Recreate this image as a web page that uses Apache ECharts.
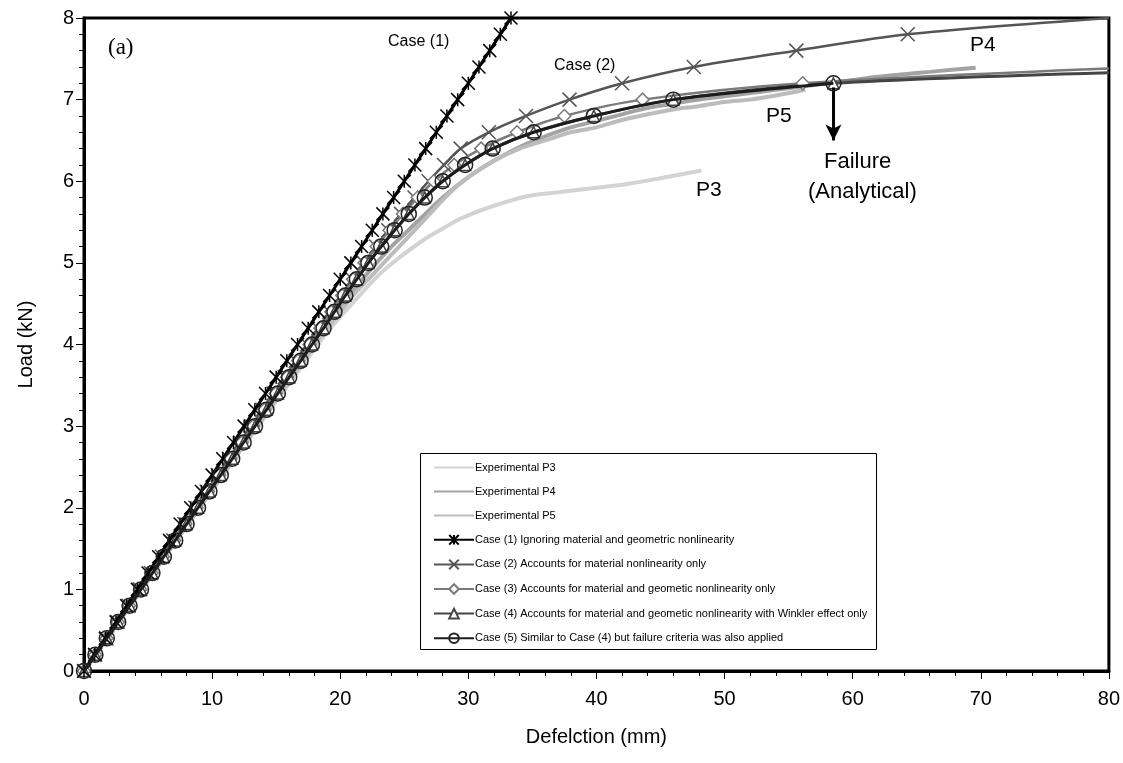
<!DOCTYPE html>
<html>
<head>
<meta charset="utf-8">
<title>Load - deflection</title>
<script src="https://cdn.jsdelivr.net/npm/echarts@6/dist/echarts.min.js"></script>
<style>
    html, body { margin: 0; padding: 0; background: #fff; }
    #main { width: 1123px; height: 763px; }
</style>
</head>
<body>
<div id="main"></div>
<script>
// 荷载 (kN) 与 挠度 (mm)
var load1 = [0, 0.2, 0.4, 0.6, 0.8, 1.0, 1.2, 1.4, 1.6, 1.8, 2.0, 2.2, 2.4, 2.6, 2.8, 3.0, 3.2, 3.4, 3.6, 3.8, 4.0,
    4.2, 4.4, 4.6, 4.8, 5.0, 5.2, 5.4, 5.6, 5.8, 6.0, 6.2, 6.4, 6.6, 6.8, 7.0, 7.2, 7.4, 7.6, 7.8, 8.0];
var defl1 = [0, 0.83, 1.67, 2.5, 3.33, 4.17, 5.0, 5.83, 6.67, 7.5, 8.33, 9.17, 10.0, 10.83, 11.67, 12.5, 13.33, 14.17, 15.0, 15.83, 16.67,
    17.5, 18.33, 19.17, 20.0, 20.83, 21.67, 22.5, 23.33, 24.17, 25.0, 25.83, 26.67, 27.5, 28.33, 29.17, 30.0, 30.83, 31.67, 32.5, 33.33];

var load2 = [0, 0.2, 0.4, 0.6, 0.8, 1.0, 1.2, 1.4, 1.6, 1.8, 2.0, 2.2, 2.4, 2.6, 2.8, 3.0, 3.2, 3.4, 3.6, 3.8, 4.0,
    4.2, 4.4, 4.6, 4.8, 5.0, 5.2, 5.4, 5.6, 5.8, 6.0, 6.2, 6.4, 6.6, 6.8, 7.0, 7.2, 7.4, 7.6, 7.8, 8.0];
var defl2 = [0, 0.87, 1.74, 2.61, 3.48, 4.35, 5.22, 6.09, 6.96, 7.83, 8.7, 9.57, 10.44, 11.31, 12.18, 13.05, 13.92, 14.79, 15.66, 16.53, 17.4,
    18.28, 19.17, 20.05, 20.95, 21.85, 22.8, 23.75, 24.75, 25.8, 26.9, 28.1, 29.4, 31.6, 34.5, 37.9, 42.0, 47.6, 55.6, 64.3, 80.0];

var load3 = [0, 0.2, 0.4, 0.6, 0.8, 1.0, 1.2, 1.4, 1.6, 1.8, 2.0, 2.2, 2.4, 2.6, 2.8, 3.0, 3.2, 3.4, 3.6, 3.8, 4.0,
    4.2, 4.4, 4.6, 4.8, 5.0, 5.2, 5.4, 5.6, 5.8, 6.0, 6.2, 6.4, 6.6, 6.8, 7.0, 7.2, 7.38];
var defl3 = [0, 0.88, 1.76, 2.64, 3.52, 4.4, 5.28, 6.16, 7.04, 7.92, 8.8, 9.68, 10.56, 11.44, 12.32, 13.2, 14.08, 14.96, 15.84, 16.72, 17.6,
    18.45, 19.3, 20.15, 21.0, 21.9, 22.85, 23.85, 24.9, 26.05, 27.3, 28.9, 31.0, 33.8, 37.5, 43.6, 56.1, 80.0];

var load4 = [0, 0.2, 0.4, 0.6, 0.8, 1.0, 1.2, 1.4, 1.6, 1.8, 2.0, 2.2, 2.4, 2.6, 2.8, 3.0, 3.2, 3.4, 3.6, 3.8, 4.0,
    4.2, 4.4, 4.6, 4.8, 5.0, 5.2, 5.4, 5.6, 5.8, 6.0, 6.2, 6.4, 6.6, 6.8, 7.0, 7.2, 7.33];
var defl4 = [0, 0.89, 1.78, 2.67, 3.56, 4.45, 5.34, 6.23, 7.12, 8.01, 8.9, 9.79, 10.68, 11.57, 12.46, 13.35, 14.24, 15.13, 16.02, 16.91, 17.8,
    18.7, 19.55, 20.4, 21.3, 22.2, 23.2, 24.25, 25.35, 26.6, 28.0, 29.75, 31.9, 35.1, 39.8, 46.0, 58.5, 80.0];

var load5 = [0, 0.2, 0.4, 0.6, 0.8, 1.0, 1.2, 1.4, 1.6, 1.8, 2.0, 2.2, 2.4, 2.6, 2.8, 3.0, 3.2, 3.4, 3.6, 3.8, 4.0,
    4.2, 4.4, 4.6, 4.8, 5.0, 5.2, 5.4, 5.6, 5.8, 6.0, 6.2, 6.4, 6.6, 6.8, 7.0, 7.2];
var defl5 = [0, 0.89, 1.78, 2.67, 3.56, 4.45, 5.34, 6.23, 7.12, 8.01, 8.9, 9.79, 10.68, 11.57, 12.46, 13.35, 14.24, 15.13, 16.02, 16.91, 17.8,
    18.7, 19.55, 20.4, 21.3, 22.2, 23.2, 24.25, 25.35, 26.6, 28.0, 29.75, 31.9, 35.1, 39.8, 46.0, 58.5];

// 试验曲线
var loadP3 = [0, 2.0, 3.95, 4.25, 4.6, 4.85, 5.05, 5.28, 5.42, 5.55, 5.7, 5.82, 5.87, 5.92, 5.97, 6.04, 6.13];
var deflP3 = [0, 9.0, 18.0, 19.5, 21.5, 23.0, 24.5, 26.5, 28.0, 29.5, 32.0, 34.7, 37.3, 40.0, 42.5, 45.1, 48.2];

var loadP4 = [0, 2.0, 4.0, 4.45, 4.85, 5.2, 5.5, 5.8, 6.05, 6.25, 6.42, 6.55, 6.66, 6.74, 6.82, 6.9, 6.95,
    7.0, 7.04, 7.08, 7.12, 7.16, 7.2, 7.24, 7.28, 7.31, 7.34, 7.37, 7.39];
var deflP4 = [0, 9.0, 18.0, 20.0, 22.0, 24.0, 26.0, 28.0, 30.0, 32.0, 34.0, 36.0, 38.0, 40.0, 42.0, 44.0, 46.0,
    48.0, 50.0, 52.0, 54.0, 56.0, 58.0, 60.0, 62.0, 64.0, 66.0, 68.0, 69.6];

var loadP5 = [0, 1.0, 2.0, 3.0, 4.0, 4.3, 4.6, 4.85, 5.1, 5.35, 5.6, 5.85, 6.05, 6.25, 6.4, 6.5, 6.6, 6.66,
    6.75, 6.82, 6.88, 6.92, 6.97, 7.0, 7.05, 7.12];
var deflP5 = [0, 4.5, 9.0, 13.5, 18.0, 19.5, 21.0, 22.5, 24.0, 25.5, 27.0, 28.5, 30.0, 32.0, 34.0, 36.0, 38.0, 40.0,
    42.0, 44.0, 46.0, 48.0, 50.0, 52.0, 54.0, 56.3];

var legendNames = [
    'Experimental P3',
    'Experimental P4',
    'Experimental P5',
    'Case (1) Ignoring material and geometric nonlinearity',
    'Case (2) Accounts for material nonlinearity only',
    'Case (3) Accounts for material and geometic nonlinearity only',
    'Case (4) Accounts for material and geometic nonlinearity with Winkler effect only',
    'Case (5) Similar to Case (4) but failure criteria was also applied'
];

var FONT = '"Liberation Sans", Arial, sans-serif';
var STAR = 'path://M0,0L10,10M10,0L0,10M5,0L5,10';
var CROSS = 'path://M0,0L10,10M10,0L0,10';

// 组合成 [x, y]，最后一点 (延伸到边框) 不画标记
function pairs(xs, ys, lastPlain) {
    var out = [];
    for (var i = 0; i < xs.length; i++) {
        if (lastPlain && i == xs.length - 1) {
            out.push({ value: [xs[i], ys[i]], symbol: 'none' });
        } else {
            out.push([xs[i], ys[i]]);
        }
    }
    return out;
}

function expSeries(name, xs, ys, color) {
    return {
        name: name,
        type: 'line',
        data: pairs(xs, ys, false),
        showSymbol: false,
        symbol: 'none',
        smooth: 0.3,
        lineStyle: { color: color, width: 4 },
        itemStyle: { color: color },
        z: 1
    };
}

// 图例：试验曲线只画线，不画点
var legendData = [];
for (var k = 0; k < legendNames.length; k++) {
    if (k < 3) {
        legendData.push({ name: legendNames[k], itemStyle: { opacity: 0 } });
    } else {
        legendData.push({ name: legendNames[k] });
    }
}

var chart = echarts.init(document.getElementById('main'));
var option = {
    animation: false,
    backgroundColor: '#fff',
    textStyle: { fontFamily: FONT },
    grid: {
        left: 84, right: 12, top: 18, bottom: 92,
        show: true,
        borderColor: '#000',
        borderWidth: 3
    },
    xAxis: {
        type: 'value',
        min: 0, max: 80, interval: 10,
        name: 'Defelction (mm)',
        nameLocation: 'middle',
        nameGap: 56,
        nameTextStyle: { fontSize: 20, color: '#000', fontFamily: FONT },
        axisLine: { lineStyle: { color: '#000', width: 3 } },
        axisTick: { length: 8, lineStyle: { color: '#000', width: 1 } },
        minorTick: { show: true, splitNumber: 5, length: 5, lineStyle: { color: '#000', width: 1 } },
        axisLabel: { fontSize: 20, color: '#000', margin: 18, fontFamily: FONT },
        splitLine: { show: false }
    },
    yAxis: {
        type: 'value',
        min: 0, max: 8, interval: 1,
        name: 'Load (kN)',
        nameLocation: 'middle',
        nameGap: 48,
        nameTextStyle: { fontSize: 20, color: '#000', fontFamily: FONT },
        axisLine: { show: true, lineStyle: { color: '#000', width: 3 } },
        axisTick: { show: true, length: 8, lineStyle: { color: '#000', width: 1 } },
        minorTick: { show: true, splitNumber: 5, length: 5, lineStyle: { color: '#000', width: 1 } },
        axisLabel: { fontSize: 20, color: '#000', margin: 10, fontFamily: FONT },
        splitLine: { show: false }
    },
    legend: {
        orient: 'vertical',
        left: 428,
        top: 457,
        itemWidth: 40,
        itemHeight: 12,
        itemGap: 13,
        textStyle: { fontSize: 11, color: '#000', fontFamily: FONT, padding: [0, 0, 0, -4] },
        data: legendData
    },
    graphic: [
        { type: 'rect', left: 420, top: 453, z: -1, silent: true,
          shape: { width: 456, height: 196 },
          style: { fill: '#fff', stroke: '#000', lineWidth: 1 } },
        { type: 'text', left: 108, top: 36, style: { text: '(a)', fontSize: 23, fontFamily: '"Liberation Serif", "Times New Roman", serif', fill: '#000' } },
        { type: 'text', left: 388, top: 34, style: { text: 'Case (1)', fontSize: 16, fontFamily: FONT, fill: '#000' } },
        { type: 'text', left: 554, top: 58, style: { text: 'Case (2)', fontSize: 16, fontFamily: FONT, fill: '#000' } },
        { type: 'text', left: 970, top: 35, style: { text: 'P4', fontSize: 21, fontFamily: FONT, fill: '#000' } },
        { type: 'text', left: 766, top: 106, style: { text: 'P5', fontSize: 21, fontFamily: FONT, fill: '#000' } },
        { type: 'text', left: 696, top: 180, style: { text: 'P3', fontSize: 21, fontFamily: FONT, fill: '#000' } },
        { type: 'text', left: 824, top: 151, style: { text: 'Failure', fontSize: 22, fontFamily: FONT, fill: '#000' } },
        { type: 'text', left: 808, top: 181, style: { text: '(Analytical)', fontSize: 22, fontFamily: FONT, fill: '#000' } }
    ],
    series: [
        expSeries(legendNames[0], deflP3, loadP3, '#d3d3d3'),
        expSeries(legendNames[1], deflP4, loadP4, '#a3a3a3'),
        expSeries(legendNames[2], deflP5, loadP5, '#bcbcbc'),
        {
            name: legendNames[3],
            type: 'line',
            data: pairs(defl1, load1, false),
            symbol: STAR,
            symbolSize: 13,
            lineStyle: { color: '#000', width: 3 },
            itemStyle: { color: 'transparent', borderColor: '#000', borderWidth: 1.5 },
            z: 5
        },
        {
            name: legendNames[4],
            type: 'line',
            data: pairs(defl2, load2, true),
            symbol: CROSS,
            symbolSize: 14,
            smooth: 0.3,
            lineStyle: { color: '#555', width: 2.5 },
            itemStyle: { color: 'transparent', borderColor: '#555', borderWidth: 1.5 },
            z: 4
        },
        {
            name: legendNames[5],
            type: 'line',
            data: pairs(defl3, load3, true),
            symbol: 'diamond',
            symbolSize: 13,
            smooth: 0.3,
            lineStyle: { color: '#7a7a7a', width: 2.5 },
            itemStyle: { color: '#fff', borderColor: '#7a7a7a', borderWidth: 1.5 },
            z: 4
        },
        {
            name: legendNames[6],
            type: 'line',
            data: pairs(defl4, load4, true),
            symbol: 'triangle',
            symbolSize: 11,
            smooth: 0.3,
            lineStyle: { color: '#444', width: 3 },
            itemStyle: { color: '#fff', borderColor: '#444', borderWidth: 1.5 },
            z: 4
        },
        {
            name: legendNames[7],
            type: 'line',
            data: pairs(defl5, load5, false),
            symbol: 'circle',
            symbolSize: 15,
            smooth: 0.3,
            lineStyle: { color: '#1c1c1c', width: 3 },
            itemStyle: { color: 'transparent', borderColor: '#222', borderWidth: 1.5 },
            z: 6,
            markLine: {
                silent: true,
                symbol: ['none', 'arrow'],
                symbolSize: [12, 16],
                label: { show: false },
                lineStyle: { color: '#000', width: 3, type: 'solid' },
                data: [[{ coord: [58.5, 7.15] }, { coord: [58.5, 6.5] }]]
            }
        }
    ]
};
chart.setOption(option);
</script>
</body>
</html>
